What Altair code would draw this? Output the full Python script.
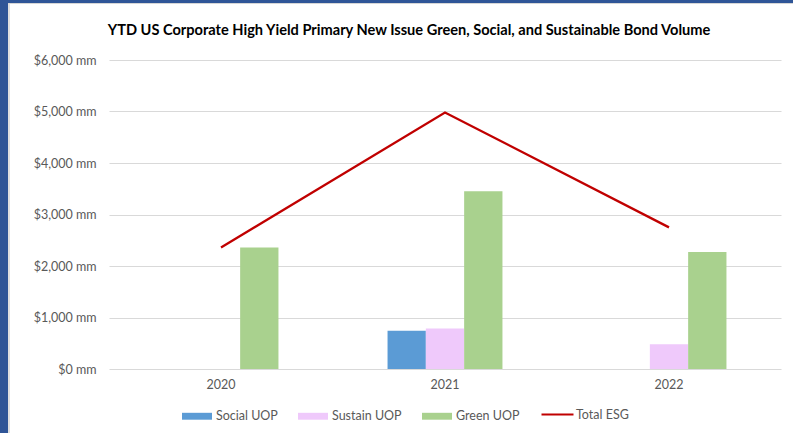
import altair as alt
import pandas as pd

years = ["2020", "2021", "2022"]
series = ["Social UOP", "Sustain UOP", "Green UOP"]
social_uop = [None, 745, None]
sustain_uop = [None, 785, 480]
green_uop = [2360, 3450, 2270]
total_esg = [2360, 4980, 2750]
line_name = "Total ESG"
y_ticks = [0, 1000, 2000, 3000, 4000, 5000, 6000]

bar_colors = ["#5B9BD5", "#EFC9FB", "#A9D18E"]
line_color = "#C00000"
FONT = "Lato"
GRAY = "#595959"

rows = []
for i, yr in enumerate(years):
    for s, vals in zip(series, [social_uop, sustain_uop, green_uop]):
        if vals[i] is not None:
            rows.append({"year": yr, "series": s, "value": vals[i]})
bars_df = pd.DataFrame(rows)
line_df = pd.DataFrame({"year": years, "series": line_name, "value": total_esg})

x_enc = alt.X(
    "year:N",
    title=None,
    scale=alt.Scale(domain=years, paddingInner=0.487, paddingOuter=0.2435),
    axis=alt.Axis(labelAngle=0, ticks=False, domain=False, labelPadding=9,
                  labelColor=GRAY, labelFont=FONT, labelFontSize=12.5, grid=False),
)
y_enc = alt.Y(
    "value:Q",
    title=None,
    scale=alt.Scale(domain=[0, 6000]),
    axis=alt.Axis(values=y_ticks, labelExpr="'$' + format(datum.value, ',') + ' mm'",
                  ticks=False, domain=False, labelPadding=13, labelColor=GRAY,
                  labelFont=FONT, labelFontSize=12.5, gridColor="#D9D9D9", gridWidth=1),
)

bar_legend = alt.Legend(
    orient="none", legendX=73, legendY=341, direction="horizontal", title=None,
    symbolType="M-1,-0.23h2v0.46h-2z", symbolSize=900, symbolStrokeWidth=0,
    symbolOpacity=1, columnPadding=20, labelOffset=4,
    labelFont=FONT, labelFontSize=12.5, labelColor=GRAY,
)
line_legend = alt.Legend(
    orient="none", legendX=431, legendY=337, direction="horizontal", title=None,
    symbolType="stroke", symbolSize=1024, symbolStrokeWidth=2.2,
    symbolOpacity=1, labelOffset=1,
    labelFont=FONT, labelFontSize=12.5, labelColor=GRAY,
)

bars = alt.Chart(bars_df).mark_bar().encode(
    x=x_enc,
    y=y_enc,
    xOffset=alt.XOffset("series:N", scale=alt.Scale(domain=series, paddingInner=0, paddingOuter=0)),
    color=alt.Color("series:N", scale=alt.Scale(domain=series, range=bar_colors),
                    legend=bar_legend, sort=series),
)

line = alt.Chart(line_df).mark_line(strokeWidth=2.25).encode(
    x=x_enc,
    y=y_enc,
    stroke=alt.Stroke("series:N", scale=alt.Scale(domain=[line_name], range=[line_color]),
                      legend=line_legend),
)

one = alt.Data(values=[{"k": 1}])
frame_blue_left = alt.Chart(one).mark_rect(color="#2F5597").encode(
    x=alt.value(-109), x2=alt.value(-101), y=alt.value(-60), y2=alt.value(373))
frame_blue_top = alt.Chart(one).mark_rect(color="#2F5597").encode(
    x=alt.value(-109), x2=alt.value(684), y=alt.value(-60), y2=alt.value(-57))
frame_gray_left = alt.Chart(one).mark_rule(color="#D6D6D6", strokeWidth=1.5).encode(
    x=alt.value(-100), y=alt.value(-57), y2=alt.value(373))
frame_gray_top = alt.Chart(one).mark_rule(color="#D6D6D6", strokeWidth=1).encode(
    x=alt.value(-101), x2=alt.value(684), y=alt.value(-56.5))

chart = alt.layer(
    frame_blue_left, frame_blue_top, frame_gray_left, frame_gray_top, bars, line
).properties(
    width=672,
    height=309,
    title=alt.TitleParams(
        "YTD US Corporate High Yield Primary New Issue Green, Social, and Sustainable Bond Volume",
        font=FONT, fontSize=14.6, fontWeight="bold", color="#000000",
        anchor="middle", dx=-36, offset=-38,
    ),
    autosize=alt.AutoSizeParams(type="none"),
    padding={"left": 109, "top": 60, "right": 12, "bottom": 64},
    background="white",
).configure_view(stroke=None)

chart.save("out.html", embed_options={"renderer": "svg", "actions": False})
